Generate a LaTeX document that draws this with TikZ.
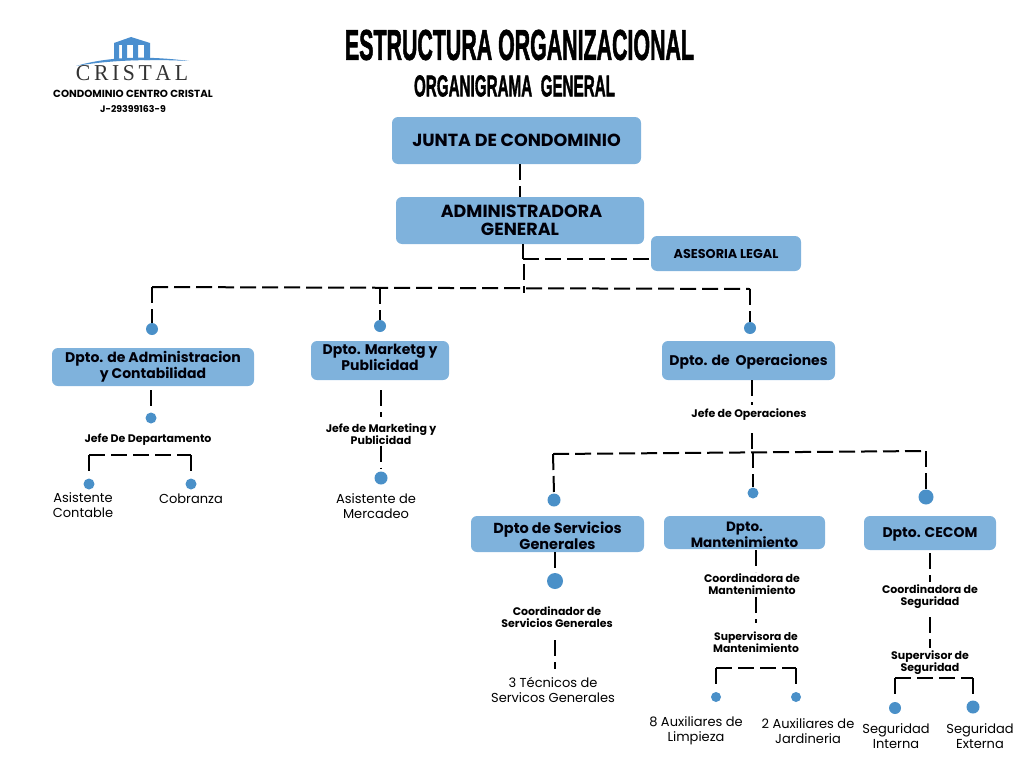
\documentclass[tikz,border=0pt]{standalone}
\usepackage{fontspec}
\setmainfont{Poppins}
\newfontfamily\titlefont[BoldFeatures={FakeBold=2}]{Liberation Sans}
\newfontfamily\logofont{Liberation Serif}
\usetikzlibrary{positioning}

\definecolor{boxblue}{HTML}{7FB2DC}
\definecolor{dotblue}{HTML}{4A90C8}
\definecolor{logoblue}{HTML}{4B8FCF}

\tikzset{
  box/.style={fill=boxblue,rounded corners=6pt,inner sep=0pt,align=center,text=black!96!blue,text depth=0pt},
  deptfont/.style={font=\fontsize{#1}{16}\selectfont\bfseries},
  link/.style={black,line width=2pt,dash pattern=on 16pt off 6pt},
  dot/.style={circle,fill=dotblue,inner sep=0pt},
  role/.style={font=\fontsize{11}{12}\selectfont\bfseries,align=center,inner sep=1pt,yshift=-1pt},
  leaf/.style={font=\fontsize{13}{15}\selectfont,align=center,inner sep=1pt}
}

\begin{document}
\begin{tikzpicture}[x=1pt,y=-1pt]

    \useasboundingbox (0,0) rectangle (1024,768);

    % Logo
    \fill[logoblue] (114,60) -- (114,43) -- (131,37) -- (150,43) -- (150,60) -- (144,60) -- (144,45) -- (138,45) -- (138,60)
      -- (133,60) -- (133,45) -- (127,45) -- (127,60) -- (122,60) -- (122,45) -- (119,45) -- (119,60) -- cycle;
    \fill[logoblue] (76,66) .. controls (110,56) and (150,56) .. (189,61) .. controls (150,59) and (110,60) .. (76,66) -- cycle;
    \node[inner sep=0pt,text=black!80] (logoname) at (132,73) {\resizebox{112pt}{15pt}{\logofont C\,R\,I\,S\,T\,A\,L}};
    \node[role,font=\fontsize{10.3}{11}\selectfont\bfseries,yshift=1pt] (logotitle) at (133,94) {CONDOMINIO CENTRO CRISTAL};
    \node[role,font=\fontsize{9.4}{11}\selectfont\bfseries,yshift=1pt] (logorif) at (133,109) {J-29399163-9};

    % Title
    \node[inner sep=0pt] (title) at (519.5,45) {\resizebox{349pt}{30pt}{\titlefont\bfseries ESTRUCTURA ORGANIZACIONAL}};
    \node[inner sep=0pt] (subtitle) at (514.5,86) {\resizebox{201pt}{21pt}{\titlefont\bfseries ORGANIGRAMA\ \ GENERAL}};

    % Top boxes
    \node[box,minimum width=249pt,minimum height=47pt,font=\fontsize{17.5}{18}\selectfont\bfseries] (junta) at (516.5,140.5) {JUNTA DE CONDOMINIO};
    \node[box,minimum width=248pt,minimum height=47pt,font=\fontsize{17.5}{18}\selectfont\bfseries] (admin) at (520,220.5) {\hspace*{3pt}ADMINISTRADORA\\GENERAL};
    \node[box,minimum width=150pt,minimum height=35pt,font=\fontsize{12.8}{14}\selectfont\bfseries] (legal) at (726,253.5) {ASESORIA LEGAL};

    \coordinate (juntaend) at (520,197);
    \draw[link] (junta.south -| juntaend) -- (juntaend);

    \coordinate (legalbend) at (523,259);
    \draw[link] (admin.south -| legalbend) -- (legalbend);
    \draw[link] (legalbend) -- (legal.west |- legalbend);
    \coordinate (trunktop) at (524,264);
    \coordinate (trunkend) at (524,293);
    \draw[link] (trunktop) -- (trunkend);

    % Departments
    \node[box,minimum width=202pt,minimum height=38pt,deptfont=14,text depth=4pt] (dptoadm) at (153,367) {Dpto. de Administracion\\y Contabilidad};
    \node[box,minimum width=138pt,minimum height=39pt,deptfont=14,text depth=6pt] (dptomark) at (380,360.5) {Dpto. Marketg y\\Publicidad};
    \node[box,minimum width=173pt,minimum height=39pt,deptfont=14,text depth=2pt] (dptoper) at (748.5,360.5) {Dpto. de\ \ Operaciones};

    \node[dot,minimum size=12pt] (dotadm) at (152,329) {};
    \node[dot,minimum size=12pt] (dotmark) at (380,326) {};
    \node[dot,minimum size=12pt] (dotoper) at (750,328) {};

    \coordinate (barleft) at (152,287);
    \coordinate (barmid) at (380,288);
    \coordinate (barright) at (750,289);
    \draw[link] (barleft) -- (barright);
    \draw[link] (barleft) -- (dotadm.north);
    \draw[link] (barmid) -- (dotmark.north);
    \draw[link] (barright) -- (dotoper.north);

    % Administracion branch
    \node[dot,minimum size=11pt] (dotjefeadm) at (151,418) {};
    \node[role] (jefeadm) at (148,439) {Jefe De Departamento};
    \draw[link,shorten >=3pt] ([yshift=-4pt]dptoadm.south -| dotjefeadm) -- (dotjefeadm.north);
    \node[dot,minimum size=11pt] (dotconta) at (89,484) {};
    \node[dot,minimum size=11pt] (dotcobra) at (191,484) {};
    \node[leaf] (conta) at (83,505) {Asistente\\Contable};
    \node[leaf] (cobra) at (191,499) {Cobranza};
    \coordinate (barconta) at (89,455);
    \coordinate (barcobra) at (191,455);
    \draw[link] (barconta) -- (barcobra);
    \draw[link,shorten >=3pt] (barconta) -- (dotconta.north);
    \draw[link,shorten >=3pt] (barcobra) -- (dotcobra.north);

    % Marketing branch
    \node[role] (jefemark) at (381,433) {Jefe de Marketing y\\Publicidad};
    \node[dot,minimum size=13pt] (dotasist) at (381,478) {};
    \node[leaf] (asist) at (376,506) {Asistente de\\Mercadeo};
    \draw[link] ([yshift=-10pt]dptomark.south -| jefemark) -- ([yshift=5pt]jefemark.north);
    \draw[link,shorten >=3pt] (jefemark.south) -- (dotasist.north);

    % Operaciones branch
    \node[role] (jefeoper) at (749,414) {Jefe de Operaciones};
    \coordinate (opertop) at (752,380);
    \coordinate (opermid) at (752,405);
    \coordinate (opertail) at (752,433);
    \coordinate (opercross) at (752,451);
    \draw[link] (opertop) -- (opermid);
    \draw[link] (opertail) -- (opercross);

    \node[box,minimum width=173pt,minimum height=36pt,deptfont=14.5,text height=31pt] (dptoserv) at (557.5,534) {Dpto de Servicios\\Generales};
    \node[box,minimum width=161pt,minimum height=33pt,deptfont=13.5,text height=29pt] (dptomant) at (744.5,532.5) {Dpto.\\Mantenimiento};
    \node[box,minimum width=132pt,minimum height=34pt,deptfont=14] (dptocecom) at (930,533) {Dpto. CECOM};

    \node[dot,minimum size=13pt] (dotserv) at (554,500) {};
    \node[dot,minimum size=11pt] (dotmant) at (753,493) {};
    \node[dot,minimum size=15pt] (dotcecom) at (926,497) {};

    \coordinate (opleft) at (553,454);
    \coordinate (opcenter) at (753,452);
    \coordinate (opright) at (926,451);
    \draw[link] (opleft) -- (opright);
    \draw[link] (opleft) -- (dotserv.north);
    \draw[link] (opcenter) -- (dotmant.north);
    \draw[link] (opright) -- (dotcecom.north);

    % Servicios Generales
    \node[dot,minimum size=16pt] (dotcoordserv) at (555,581) {};
    \node[role] (coordserv) at (557,616) {Coordinador de\\Servicios Generales};
    \node[leaf] (tecnicos) at (553,690) {3 T\'ecnicos de\\Servicos Generales};
    \draw[link,shorten >=3pt] (dptoserv.south -| dotcoordserv) -- (dotcoordserv.north);
    \coordinate (tecnicostop) at (555,640);
    \coordinate (tecnicosend) at (555,669);
    \draw[link] (tecnicostop) -- (tecnicosend);

    % Mantenimiento
    \node[role] (coordmant) at (752,583) {Coordinadora de\\Mantenimiento};
    \node[role,font=\fontsize{10.8}{12}\selectfont\bfseries] (supmant) at (756,641) {Supervisora de\\Mantenimiento};
    \coordinate (manttop) at (756,550);
    \coordinate (mantmid) at (756,572);
    \coordinate (mantsub) at (756,597);
    \coordinate (mantend) at (756,623);
    \draw[link] (manttop) -- (mantmid);
    \draw[link] (mantsub) -- (mantend);
    \node[dot,minimum size=10pt] (dotlimp) at (716,697) {};
    \node[dot,minimum size=10pt] (dotjard) at (796,697) {};
    \node[leaf] (limp) at (696,731) {8 Auxiliares de\\Limpieza};
    \node[leaf] (jard) at (808,731) {2 Auxiliares de\\Jardineria};
    \coordinate (barlimp) at (716,668);
    \coordinate (barjard) at (796,668);
    \draw[link] (barlimp) -- (barjard);
    \draw[link,shorten >=2pt] (barlimp) -- (dotlimp.north);
    \draw[link,shorten >=2pt] (barjard) -- (dotjard.north);

    % CECOM
    \node[role] (coordsegu) at (930,596) {Coordinadora de\\Seguridad};
    \node[role] (supsegu) at (930,662) {Supervisor de\\Seguridad};
    \coordinate (cecomtop) at (930,553);
    \coordinate (cecomend) at (930,582);
    \coordinate (segutop) at (930,617);
    \coordinate (seguend) at (930,648);
    \draw[link] (cecomtop) -- (cecomend);
    \draw[link] (segutop) -- (seguend);
    \node[dot,minimum size=12pt] (dotinter) at (895,708) {};
    \node[dot,minimum size=13pt] (dotexter) at (973,707) {};
    \node[leaf] (inter) at (896,736) {Seguridad\\Interna};
    \node[leaf] (exter) at (980,736) {Seguridad\\Externa};
    \coordinate (barinter) at (895,678);
    \coordinate (barexter) at (973,678);
    \draw[link] (barinter) -- (barexter);
    \draw[link,shorten >=3pt] (barinter) -- (dotinter.north);
    \draw[link,shorten >=3pt] (barexter) -- (dotexter.north);

\end{tikzpicture}
\end{document}
